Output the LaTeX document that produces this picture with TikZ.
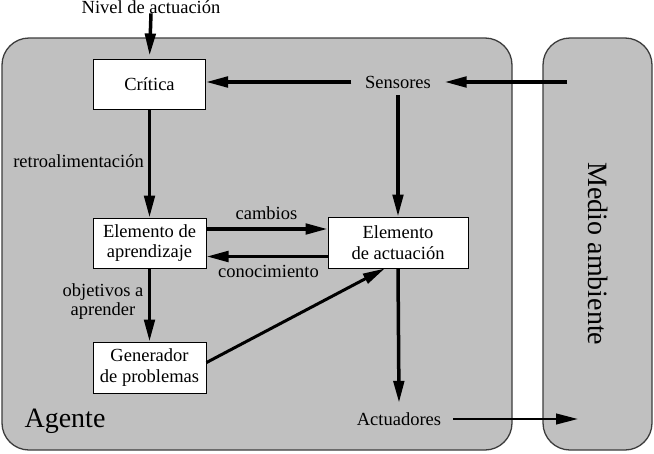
\documentclass[tikz,border=0pt]{standalone}
\usepackage{fontspec}
\setmainfont{Liberation Serif}
\usetikzlibrary{arrows.meta}
\definecolor{agentgray}{RGB}{192,192,192}
\definecolor{edgegray}{RGB}{60,60,60}
\begin{document}
\begin{tikzpicture}[x=1pt,y=-1pt,
  font=\fontsize{18.5}{20.5}\selectfont,
  region/.style={draw=edgegray, line width=1.3pt, fill=agentgray, rounded corners=27pt},
  blk/.style={draw=black, line width=1pt, fill=white, align=center, inner sep=0pt},
  lbl/.style={inner sep=0pt, align=center},
  bigtext/.style={font=\fontsize{28}{30}\selectfont},
  flow/.style={line width=3.5pt, -{Triangle[length=22pt,width=10.5pt]}},
]
\useasboundingbox (0,0) rectangle (654,453);
\draw[region] (2,38) rectangle (512,450);
\draw[region] (543,38) rectangle (652,450);

\node[blk, minimum width=112pt, minimum height=50pt] (Cr) at (149.5,84) {Crítica};
\node[blk, minimum width=113pt, minimum height=50pt] (EAp) at (149.5,243) {Elemento de\\aprendizaje};
\node[blk, minimum width=113pt, minimum height=51pt] (Gen) at (149.5,367.5) {Generador\\de problemas};
\node[blk, minimum width=140pt, minimum height=51pt] (EA) at (398,242.5) {Elemento\\de actuación};
\node[lbl, minimum width=93pt, minimum height=26pt] (Sen) at (398,82) {Sensores};
\node[lbl, minimum width=108pt, minimum height=32pt] (Act) at (399,419) {Actuadores};
\node[lbl, anchor=base] (Niv) at (151,13) {Nivel de actuación};
\node[lbl, bigtext, anchor=base] (Ag) at (65,427) {Agente};
\node[lbl, bigtext, rotate=-90] (Med) at (598,254) {Medio ambiente};

\node[lbl, anchor=base] (lcamb) at (266.5,219) {cambios};
\node[lbl, anchor=base] (lcon) at (268.5,277) {conocimiento};
\node[lbl, anchor=base] (lretro) at (78.5,167) {retroalimentación};
\node[lbl, font=\fontsize{18.5}{19}\selectfont] (lobj) at (103,302) {objetivos a\\aprender};

\coordinate (envin) at (567,82);
\coordinate (envout) at (578,419);

\draw[flow, shorten >=3pt] (Niv.south) -- (Cr.north);
\draw[flow] (Cr.south) -- (EAp.north);
\draw[flow] (Sen.west) -- (Sen.west -| Cr.east);
\draw[flow] (envin) -- (Sen.east);
\draw[flow] (Sen.south) -- (EA.north);
\draw[flow] ([yshift=14pt]EAp.east) -- ([yshift=14pt]EAp.east -| EA.west);
\draw[flow] ([yshift=-14pt]EA.west) -- ([yshift=-14pt]EA.west -| EAp.east);
\draw[flow] (EAp.south) -- (Gen.north);
\draw[flow, line width=3pt] (Gen.5) -- (EA.-117);
\draw[flow] (EA.south) -- (Act.north);
\draw[flow, line width=2.6pt] (Act.east) -- (envout);
\end{tikzpicture}
\end{document}
